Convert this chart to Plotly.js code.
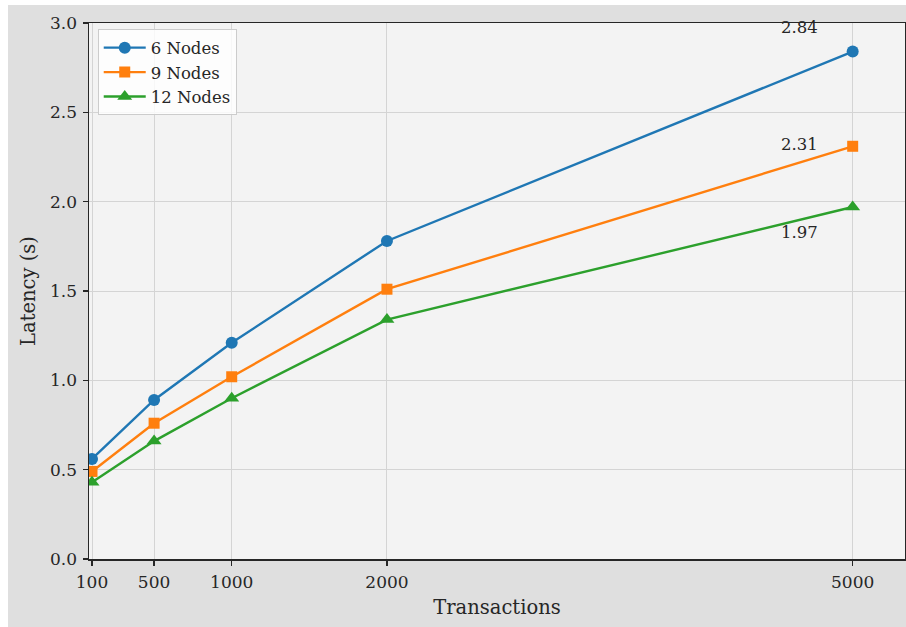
<!DOCTYPE html>
<html>
<head>
<meta charset="utf-8">
<script src="https://cdn.plot.ly/plotly-3.0.1.min.js"></script>
<style>
html,body{margin:0;padding:0;background:#ffffff;width:906px;height:627px;overflow:hidden;}
#chart{position:absolute;left:8px;top:5px;width:898px;height:622px;}
</style>
</head>
<body>
<div id="chart"></div>
<script>
const transactions = [100, 500, 1000, 2000, 5000];
const nodes6 = [0.56, 0.89, 1.21, 1.78, 2.84];
const nodes9 = [0.49, 0.76, 1.02, 1.51, 2.31];
const nodes12 = [0.43, 0.66, 0.90, 1.34, 1.97];
const seriesNames = ['6 Nodes', '9 Nodes', '12 Nodes'];
const xTicks = [100, 500, 1000, 2000, 5000];
const yTicks = [0, 0.5, 1.0, 1.5, 2.0, 2.5, 3.0];

const FONT = 'DejaVu Serif, serif';
const colors = ['#1f77b4', '#ff7f0e', '#2ca02c'];
const symbols = ['circle', 'square', 'triangle-up'];
const sizes = [12, 11, 13];
const allSeries = [nodes6, nodes9, nodes12];

const traces = allSeries.map((ys, i) => ({
  x: transactions, y: ys, name: seriesNames[i],
  type: 'scatter', mode: 'lines+markers',
  line: {color: colors[i], width: 2.4},
  marker: {color: colors[i], symbol: symbols[i], size: sizes[i]}
}));

const lastIdx = transactions.length - 1;
const shifts = [24.5, 2, -25];
const annotations = allSeries.map((ys, i) => ({
  x: transactions[lastIdx], y: ys[lastIdx], xref: 'x', yref: 'y',
  text: ys[lastIdx].toFixed(2), showarrow: false,
  xshift: -53, yshift: shifts[i],
  font: {family: FONT, size: 16.5, color: '#262626'}
}));

const layout = {
  width: 898, height: 622,
  paper_bgcolor: '#dfdfdf', plot_bgcolor: '#f3f3f3',
  margin: {l: 81.3, r: 1, t: 17.7, b: 67.7},
  font: {family: FONT, color: '#262626', size: 17},
  showlegend: true,
  legend: {
    x: 0.0107, y: 0.988, xanchor: 'left', yanchor: 'top',
    bgcolor: 'rgba(255,255,255,0.8)', bordercolor: '#cccccc', borderwidth: 1,
    font: {family: FONT, size: 16.5, color: '#262626'},
    tracegroupgap: 0, itemwidth: 42
  },
  xaxis: {
    range: [80.7, 5337], tickmode: 'array', tickvals: xTicks,
    ticktext: xTicks.map(String),
    showgrid: true, gridcolor: '#d4d4d4', gridwidth: 1,
    zeroline: false, showline: true, linecolor: '#262626', linewidth: 1.5, mirror: true,
    ticks: 'outside', ticklen: 5, tickwidth: 1.2, tickcolor: '#262626',
    ticklabelstandoff: 2,
    tickfont: {family: FONT, size: 17, color: '#262626'},
    title: {text: 'Transactions', font: {family: FONT, size: 19.5, color: '#262626'}, standoff: 9}
  },
  yaxis: {
    range: [0, 3], tickmode: 'array', tickvals: yTicks,
    ticktext: yTicks.map(v => v.toFixed(1)),
    showgrid: true, gridcolor: '#d4d4d4', gridwidth: 1,
    zeroline: false, showline: true, linecolor: '#262626', linewidth: 1.5, mirror: true,
    ticks: 'outside', ticklen: 5, tickwidth: 1.2, tickcolor: '#262626',
    ticklabelstandoff: 2,
    tickfont: {family: FONT, size: 17, color: '#262626'},
    title: {text: 'Latency (s)', font: {family: FONT, size: 19.5, color: '#262626'}, standoff: 9}
  },
  annotations: annotations
};

Plotly.newPlot('chart', traces, layout, {displayModeBar: false, staticPlot: true});
</script>
</body>
</html>
